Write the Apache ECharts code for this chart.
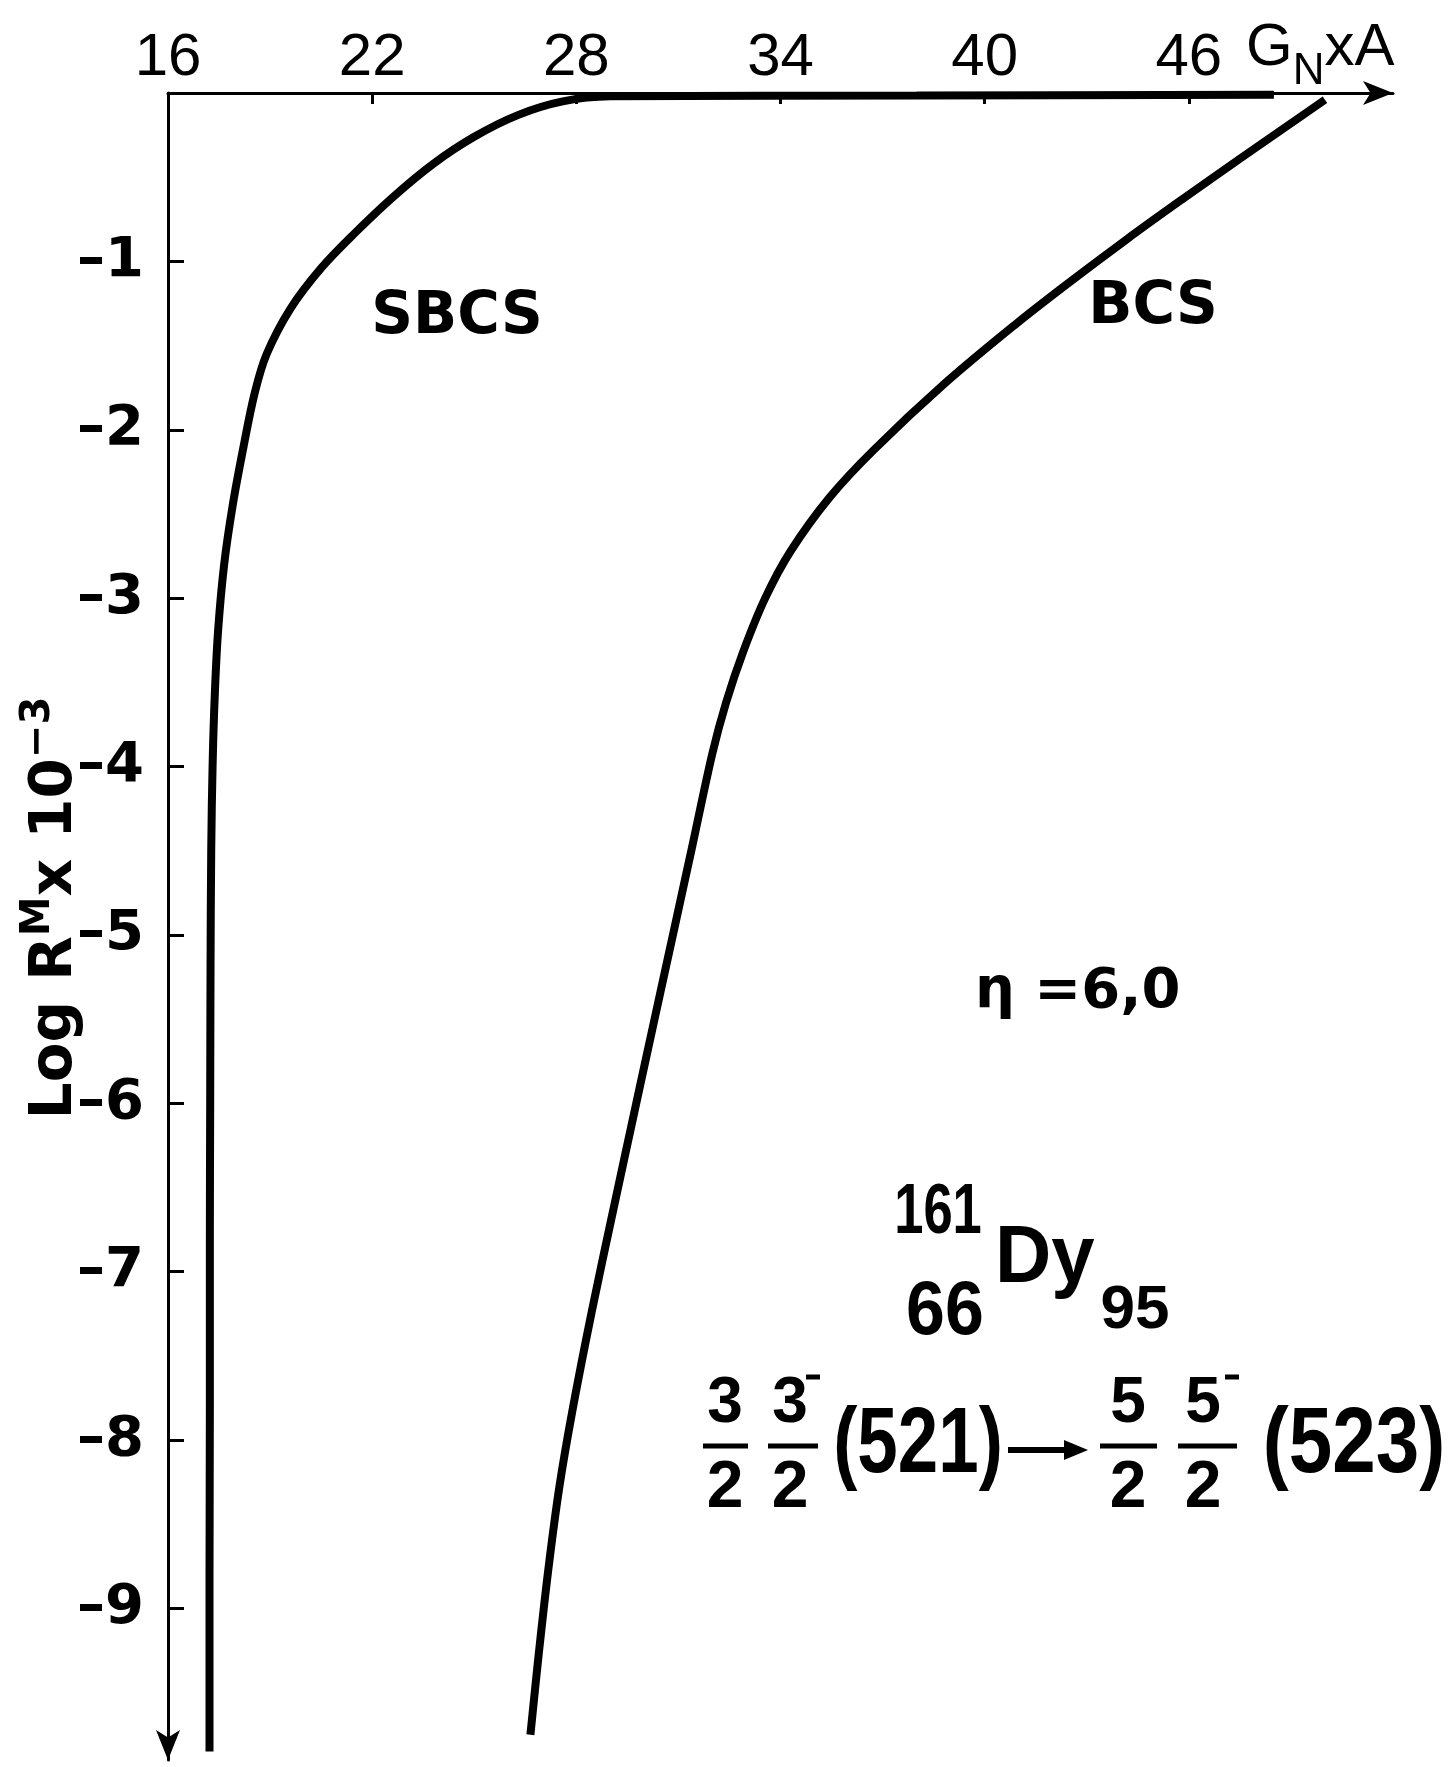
<!DOCTYPE html>
<html><head><meta charset="utf-8">
<script src="https://cdn.jsdelivr.net/npm/echarts@6/dist/echarts.min.js"></script>
<style>html,body{margin:0;padding:0;background:#fff}#c{width:1452px;height:1767px}</style>
</head><body><div id="c"></div>
<script>
// ---- data ----
const xTickValues = [16, 22, 28, 34, 40, 46];
const yTickValues = [-1, -2, -3, -4, -5, -6, -7, -8, -9];
const sbcsX = [17.22, 17.22, 17.23, 17.23, 17.24, 17.25, 17.27, 17.31, 17.37, 17.47, 17.65, 17.9, 18.22, 18.55, 18.9, 19.6, 20.5, 21.5, 22.6, 23.8, 25.0, 26.3, 27.6, 29.0, 38.0, 48.5];
const sbcsY = [-9.85, -8.8, -7.8, -6.8, -6.0, -5.2, -4.5, -4.0, -3.6, -3.2, -2.8, -2.45, -2.1, -1.78, -1.55, -1.28, -1.04, -0.83, -0.62, -0.42, -0.26, -0.13, -0.05, -0.02, -0.015, -0.01];
const bcsX = [26.65, 26.89, 27.17, 27.5, 27.88, 28.45, 29.1, 29.74, 30.32, 30.86, 31.4, 32.0, 32.4, 32.9, 33.55, 34.3, 35.45, 36.74, 38.8, 40.9, 42.55, 44.2, 45.85, 47.5, 48.75, 50.0];
const bcsY = [-9.75, -9.28, -8.78, -8.28, -7.83, -7.24, -6.62, -6.02, -5.48, -4.98, -4.48, -3.92, -3.62, -3.32, -3.0, -2.72, -2.4, -2.12, -1.73, -1.375, -1.115, -0.865, -0.625, -0.39, -0.215, -0.04];
const seriesNames = ['SBCS', 'BCS'];

const toPairs = (xs, ys) => xs.map((x, i) => [x, ys[i]]);
const LIB = "'Liberation Sans',sans-serif";
const DJ = "'DejaVu Sans',sans-serif";

const chart = echarts.init(document.getElementById('c'));

function txt(x, y, text, size, weight, family, align, sx) {
  return { type: 'text', x: x, y: y, scaleX: sx || 1,
    style: { text: text, fontSize: size, fontWeight: weight, fontFamily: family, fill: '#000', align: align || 'center', verticalAlign: 'middle' } };
}
function bar(x1, x2, y, w) {
  return { type: 'line', shape: { x1: x1, y1: y, x2: x2, y2: y }, style: { stroke: '#000', lineWidth: w || 5 } };
}

const graphics = [
  txt(457, 318, 'SBCS', 58, 'bold', DJ),
  txt(1153, 308, 'BCS', 58, 'bold', DJ),
  txt(975, 992, 'η =6,0', 56, 'bold', DJ, 'left'),
  txt(938, 1214, '161', 70, 'bold', LIB, 'center', 0.75),
  txt(995, 1259, 'Dy', 82, 'bold', LIB, 'left', 0.95),
  txt(945, 1313, '66', 76, 'bold', LIB, 'center', 0.92),
  txt(1135, 1311, '95', 62, 'bold', LIB),
  // fractions
  txt(725, 1404, '3', 64, 'bold', LIB), bar(703, 748, 1446), txt(725, 1489, '2', 66, 'bold', LIB),
  txt(790, 1404, '3', 64, 'bold', LIB), bar(768, 818, 1446), txt(790, 1489, '2', 66, 'bold', LIB),
  bar(806, 820, 1377, 5),
  txt(918, 1447, '(521)', 92, 'bold', LIB, 'center', 0.79),
  bar(1008, 1070, 1450, 6),
  { type: 'polygon', shape: { points: [[1064, 1440], [1088, 1450], [1064, 1460]] }, style: { fill: '#000' } },
  txt(1128, 1404, '5', 64, 'bold', LIB), bar(1100, 1157, 1446), txt(1128, 1489, '2', 66, 'bold', LIB),
  txt(1203, 1404, '5', 64, 'bold', LIB), bar(1178, 1237, 1446), txt(1203, 1489, '2', 66, 'bold', LIB),
  bar(1225, 1239, 1377, 5),
  txt(1354, 1447, '(523)', 92, 'bold', LIB, 'center', 0.85),
  // x axis name
  { type: 'text', x: 1246, y: 78, style: { text: '{g|G}{n|N}{g|xA}', verticalAlign: 'bottom', align: 'left',
      rich: { g: { fontSize: 60, fontFamily: LIB, fill: '#000', verticalAlign: 'bottom' },
              n: { fontSize: 44, fontFamily: LIB, fill: '#000', verticalAlign: 'bottom', padding: [0, 0, -16, 0] } } } },
  // y axis name (rotated)
  { type: 'text', x: 52, y: 908, rotation: Math.PI / 2, style: { text: '{b|Log R}{s|M}{b|x 10}{s|−3}', align: 'center', verticalAlign: 'middle',
      rich: { b: { fontSize: 58, fontWeight: 'bold', fontFamily: DJ, fill: '#000', verticalAlign: 'bottom' },
              s: { fontSize: 40, fontWeight: 'bold', fontFamily: DJ, fill: '#000', verticalAlign: 'bottom', padding: [0, 0, 26, 0] } } } }
];

chart.setOption({
  animation: false,
  backgroundColor: '#fff',
  grid: { left: 168, right: 59, top: 93, bottom: 7 },
  xAxis: {
    type: 'value', position: 'top', min: 16, max: 52,
    axisLine: { onZero: false, lineStyle: { color: '#000', width: 3 }, symbol: ['none', 'arrow'], symbolSize: [18, 30] },
    axisTick: { inside: true, length: 11, customValues: xTickValues, lineStyle: { color: '#000', width: 3 } },
    axisLabel: { customValues: xTickValues, margin: 5, color: '#000', fontSize: 60, fontFamily: LIB },
    splitLine: { show: false }
  },
  yAxis: {
    type: 'value', min: -9.9, max: 0,
    axisLine: { onZero: false, lineStyle: { color: '#000', width: 3 }, symbol: ['arrow', 'none'], symbolSize: [18, 30] },
    axisTick: { inside: true, length: 16, customValues: yTickValues, lineStyle: { color: '#000', width: 3 } },
    axisLabel: { customValues: yTickValues, margin: 24, color: '#000', fontSize: 56, fontWeight: 'bold', fontFamily: DJ,
      formatter: v => String(v).replace('-', '–') },
    splitLine: { show: false }
  },
  series: [
    { name: seriesNames[0], type: 'line', data: toPairs(sbcsX, sbcsY), showSymbol: false, smooth: 0.35, clip: false,
      lineStyle: { color: '#000', width: 8 } },
    { name: seriesNames[1], type: 'line', data: toPairs(bcsX, bcsY), showSymbol: false, smooth: 0.35, clip: false,
      lineStyle: { color: '#000', width: 8 } }
  ],
  graphic: graphics
});
</script>
</body></html>
